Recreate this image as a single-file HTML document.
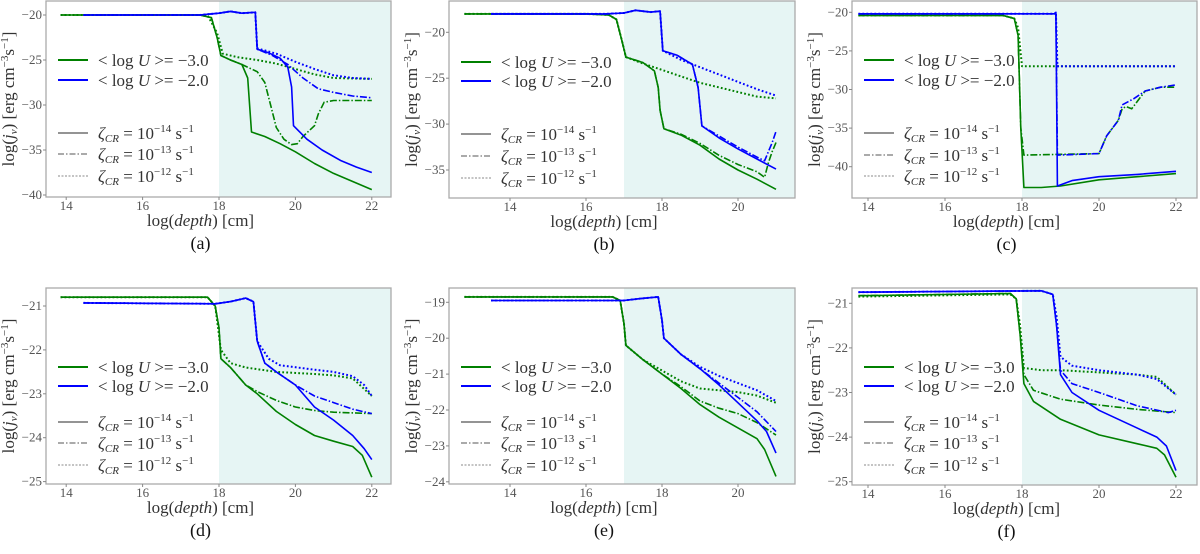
<!DOCTYPE html>
<html><head><meta charset="utf-8"><style>
body{margin:0;background:#fff;}
svg{display:block;font-family:"Liberation Serif",serif;}
</style></head><body>
<svg id="fig" width="1200" height="554" viewBox="0 0 1200 554"></svg>
<script>
// ---- data: [logDepth, log j_nu] ----
const a_gs=[[13.85,-20],[17.5,-20],[17.8,-20.3],[17.95,-22.5],[18.05,-24.5],[18.3,-25],[18.6,-25.5],[18.75,-27],[18.85,-33],[19.2,-33.5],[19.6,-34.3],[20,-35.2],[20.5,-36.5],[21,-37.6],[21.5,-38.5],[22,-39.4]];
const a_gd=[[13.85,-20],[17.5,-20],[17.8,-20.3],[17.95,-22.5],[18.05,-24.5],[18.3,-25],[18.6,-25.5],[19,-26.3],[19.2,-27.5],[19.35,-30],[19.5,-32.5],[19.7,-33.8],[19.9,-34.4],[20.05,-34.3],[20.2,-33.5],[20.5,-32.3],[20.6,-31],[20.75,-29.7],[21,-29.5],[22,-29.5]];
const a_go=[[13.85,-20],[17.7,-20],[17.95,-22],[18.1,-24.3],[18.5,-24.7],[19,-25],[19.5,-25.4],[20,-26],[20.5,-26.6],[21,-27],[22,-27.1]];
const a_bs=[[14.45,-20],[17.5,-20],[18,-19.8],[18.3,-19.6],[18.6,-19.8],[18.95,-19.7],[19,-23.8],[19.3,-24.2],[19.6,-24.8],[19.8,-25.8],[19.9,-28],[19.95,-32.3],[20.3,-33.8],[20.7,-35],[21.2,-36.2],[21.6,-36.9],[22,-37.5]];
const a_bd=[[14.45,-20],[17.5,-20],[18,-19.8],[18.3,-19.6],[18.6,-19.8],[18.95,-19.7],[19,-23.8],[19.4,-24.5],[19.8,-25.5],[20.2,-27],[20.6,-28.2],[21,-28.6],[21.5,-29],[22,-29.2]];
const a_bo=[[14.45,-20],[17.5,-20],[18,-19.8],[18.3,-19.6],[18.6,-19.8],[18.95,-19.7],[19,-23.7],[19.5,-24.3],[20,-25.2],[20.5,-26],[21,-26.7],[21.5,-27],[22,-27.1]];

const b_gs=[[12.8,-18],[16,-18],[16.6,-18.1],[16.8,-18.6],[16.95,-21],[17.05,-22.7],[17.5,-23.3],[17.8,-24.2],[17.9,-26],[17.95,-28.5],[18.05,-30.5],[18.5,-31.2],[19,-32.3],[19.5,-33.8],[20,-35],[20.5,-36],[21,-37.1]];
const b_gd=[[12.8,-18],[16,-18],[16.6,-18.1],[16.8,-18.6],[16.95,-21],[17.05,-22.7],[17.5,-23.3],[17.8,-24.2],[17.9,-26],[17.95,-28.5],[18.05,-30.5],[18.5,-31.1],[19,-32.1],[19.5,-33.4],[20,-34.4],[20.5,-35.2],[20.7,-35.8],[20.8,-34.2],[20.9,-33],[21,-32]];
const b_go=[[12.8,-18],[16,-18],[16.6,-18.1],[16.8,-18.6],[16.95,-21],[17.05,-22.7],[17.5,-23.4],[18,-24.1],[18.5,-24.8],[19,-25.5],[19.5,-26],[20,-26.5],[20.5,-27],[21,-27.2]];
const b_bs=[[13.5,-18],[16.5,-18],[17,-17.9],[17.3,-17.6],[17.7,-17.8],[17.95,-17.7],[18.02,-22],[18.4,-22.5],[18.8,-23.5],[18.95,-26],[19.05,-30.2],[19.5,-31.5],[20,-32.7],[20.5,-33.8],[21,-34.9]];
const b_bd=[[13.5,-18],[16.5,-18],[17,-17.9],[17.3,-17.6],[17.7,-17.8],[17.95,-17.7],[18.02,-22],[18.4,-22.5],[18.8,-23.5],[18.95,-26],[19.05,-30.2],[19.5,-31.3],[20,-32.5],[20.5,-33.6],[20.7,-34],[20.8,-33],[20.9,-32],[21,-30.8]];
const b_bo=[[13.5,-18],[16.5,-18],[17,-17.9],[17.3,-17.6],[17.7,-17.8],[17.95,-17.7],[18.02,-22],[18.5,-23],[19,-23.8],[19.5,-24.6],[20,-25.4],[20.5,-26.2],[21,-26.9]];

const c_gs=[[13.75,-20.4],[17.5,-20.4],[17.8,-20.8],[17.9,-23],[17.97,-35],[18.05,-42.7],[18.5,-42.7],[19,-42.5],[20,-41.7],[21,-41.3],[22,-40.9]];
const c_gd=[[13.75,-20.4],[17.5,-20.4],[17.8,-20.8],[17.9,-23],[17.97,-35],[18.05,-38.5],[20,-38.3],[20.2,-36],[20.5,-34],[20.6,-32.5],[20.7,-32.2],[20.85,-32.5],[21.2,-30.2],[21.6,-29.7],[22,-29.7]];
const c_go=[[13.75,-20.4],[17.5,-20.4],[17.8,-20.8],[17.9,-22],[18,-27],[22,-27]];
const c_bs=[[13.75,-20.2],[18.85,-20.2],[18.88,-20],[18.92,-42.5],[19.3,-41.8],[20,-41.3],[21,-41],[22,-40.6]];
const c_bd=[[13.75,-20.2],[18.85,-20.2],[18.88,-20],[18.92,-38.5],[20,-38.3],[20.2,-36],[20.5,-34],[20.6,-32],[20.9,-31.2],[21.2,-30.2],[21.6,-29.7],[22,-29.4]];
const c_bo=[[13.75,-20.2],[18.85,-20.2],[18.88,-20],[18.92,-27],[22,-27]];

const d_gs=[[13.85,-20.8],[17.7,-20.8],[17.9,-21],[18,-21.5],[18.05,-22.2],[18.3,-22.4],[18.7,-22.8],[19,-23],[19.5,-23.4],[20,-23.7],[20.5,-23.95],[21,-24.08],[21.5,-24.2],[21.75,-24.4],[22,-24.9]];
const d_gd=[[13.85,-20.8],[17.7,-20.8],[17.9,-21],[18,-21.5],[18.05,-22.2],[18.3,-22.4],[18.7,-22.8],[19,-22.95],[19.5,-23.15],[20,-23.3],[20.5,-23.38],[21,-23.42],[22,-23.45]];
const d_go=[[13.85,-20.8],[17.7,-20.8],[17.9,-21],[18.05,-22],[18.3,-22.3],[18.7,-22.4],[19.5,-22.5],[20.5,-22.55],[21,-22.58],[21.5,-22.65],[22,-23.05]];
const d_bs=[[14.45,-20.93],[17.9,-20.95],[18.3,-20.9],[18.7,-20.82],[18.9,-20.9],[19,-21.8],[19.2,-22.3],[19.5,-22.5],[20,-22.8],[20.5,-23.3],[21,-23.6],[21.5,-23.95],[21.8,-24.25],[22,-24.5]];
const d_bd=[[14.45,-20.93],[17.9,-20.95],[18.3,-20.9],[18.7,-20.82],[18.9,-20.9],[19,-21.8],[19.2,-22.3],[19.5,-22.5],[20,-22.8],[20.5,-23.05],[21,-23.2],[21.5,-23.35],[22,-23.45]];
const d_bo=[[14.45,-20.93],[17.9,-20.95],[18.3,-20.9],[18.7,-20.82],[18.9,-20.9],[19,-21.8],[19.3,-22.2],[19.6,-22.35],[20.5,-22.45],[21,-22.5],[21.5,-22.6],[21.8,-22.8],[22,-23.05]];

const e_gs=[[12.8,-18.85],[16.7,-18.85],[16.9,-18.95],[17,-19.6],[17.05,-20.2],[17.5,-20.6],[18,-21],[18.5,-21.4],[19,-21.85],[19.5,-22.2],[20,-22.5],[20.5,-22.8],[20.7,-23.1],[21,-23.85]];
const e_gd=[[12.8,-18.85],[16.7,-18.85],[16.9,-18.95],[17,-19.6],[17.05,-20.2],[17.5,-20.6],[18,-21],[18.5,-21.35],[19,-21.75],[19.5,-21.95],[20,-22.1],[20.5,-22.35],[21,-22.7]];
const e_go=[[12.8,-18.85],[16.7,-18.85],[16.9,-18.95],[17,-19.6],[17.05,-20.2],[17.5,-20.6],[18,-20.9],[18.5,-21.2],[19,-21.4],[20,-21.5],[20.5,-21.6],[21,-21.8]];
const e_bs=[[13.5,-18.95],[17,-18.95],[17.4,-18.9],[17.9,-18.85],[18,-19.5],[18.05,-20],[18.5,-20.45],[19,-20.85],[19.5,-21.3],[20,-21.8],[20.5,-22.3],[20.75,-22.6],[21,-23.2]];
const e_bd=[[13.5,-18.95],[17,-18.95],[17.4,-18.9],[17.9,-18.85],[18,-19.5],[18.05,-20],[18.5,-20.45],[19,-20.85],[19.5,-21.25],[20,-21.65],[20.5,-22.05],[21,-22.6]];
const e_bo=[[13.5,-18.95],[17,-18.95],[17.4,-18.9],[17.9,-18.85],[18,-19.5],[18.05,-20],[18.5,-20.45],[19,-20.8],[19.5,-21.05],[20,-21.25],[20.5,-21.45],[21,-21.75]];

const f_gs=[[13.75,-20.83],[17.7,-20.78],[17.85,-20.9],[17.95,-21.7],[18.05,-22.8],[18.3,-23.2],[19,-23.6],[20,-23.95],[21,-24.15],[21.5,-24.25],[21.7,-24.4],[22,-24.9]];
const f_gd=[[13.75,-20.83],[17.7,-20.78],[17.85,-20.9],[17.95,-21.7],[18.05,-22.6],[18.3,-22.95],[19,-23.15],[20,-23.28],[21,-23.38],[22,-23.45]];
const f_go=[[13.75,-20.85],[17.7,-20.8],[17.85,-20.9],[17.95,-21.5],[18.05,-22.45],[18.5,-22.5],[19,-22.5],[20,-22.55],[21,-22.6],[21.5,-22.65],[22,-23.05]];
const f_bs=[[13.75,-20.75],[18.5,-20.72],[18.8,-20.8],[18.9,-21.5],[19,-22.6],[19.3,-23],[20,-23.4],[21,-23.8],[21.5,-24],[21.75,-24.2],[22,-24.75]];
const f_bd=[[13.75,-20.75],[18.5,-20.72],[18.8,-20.8],[18.9,-21.5],[19,-22.5],[19.3,-22.8],[20,-23],[21,-23.3],[21.8,-23.45],[22,-23.4]];
const f_bo=[[13.75,-20.75],[18.5,-20.72],[18.8,-20.8],[18.9,-21.3],[19,-22.2],[19.3,-22.4],[20,-22.5],[21,-22.6],[21.5,-22.7],[22,-23.05]];

const xTicksA=[14,16,18,20,22];
const xTicksB=[14,16,18,20];
const yTicksA=[-20,-25,-30,-35,-40];
const yTicksB=[-20,-25,-30,-35];
const yTicksC=[-20,-25,-30,-35,-40];
const yTicksD=[-21,-22,-23,-24,-25];
const yTicksE=[-19,-20,-21,-22,-23,-24];
const yTicksF=[-21,-22,-23,-24,-25];

const NS="http://www.w3.org/2000/svg";
const svg=document.getElementById('fig');
function el(tag,attrs,parent){const e=document.createElementNS(NS,tag);for(const k in attrs)e.setAttribute(k,attrs[k]);(parent||svg).appendChild(e);return e;}

const panels=[
 {id:'a',L:46,R:391,T:1,B:197,x0:18,px0:219,kx:38.2,y0:-20,py0:15,ky:9,shade:18,xt:xTicksA,yt:yTicksA,s:[a_gs,a_gd,a_go,a_bs,a_bd,a_bo],leg:[60,80,133,154,176]},
 {id:'b',L:449,R:795,T:1,B:198,x0:17,px0:624,kx:38,y0:-20,py0:32.3,ky:9.18,shade:17,xt:xTicksB,yt:yTicksB,s:[b_gs,b_gd,b_go,b_bs,b_bd,b_bo],leg:[62,81,134,156,178]},
 {id:'c',L:852,R:1197,T:1,B:198,x0:18,px0:1022,kx:38.5,y0:-20,py0:12.3,ky:7.72,shade:18,xt:xTicksA,yt:yTicksC,s:[c_gs,c_gd,c_go,c_bs,c_bd,c_bo],leg:[60,80,133,155,176]},
 {id:'d',L:46,R:391,T:288,B:484,x0:18,px0:219,kx:38.2,y0:-21,py0:306,ky:43.9,shade:18,xt:xTicksA,yt:yTicksD,s:[d_gs,d_gd,d_go,d_bs,d_bd,d_bo],leg:[367,386,422,443,465]},
 {id:'e',L:449,R:795,T:288,B:484,x0:17,px0:624,kx:38,y0:-19,py0:302.3,ky:35.9,shade:17,xt:xTicksB,yt:yTicksE,s:[e_gs,e_gd,e_go,e_bs,e_bd,e_bo],leg:[367,386,422,443,465]},
 {id:'f',L:852,R:1197,T:288,B:485,x0:18,px0:1022,kx:38.5,y0:-21,py0:303.3,ky:44.6,shade:18,xt:xTicksA,yt:yTicksF,s:[f_gs,f_gd,f_go,f_bs,f_bd,f_bo],leg:[367,386,422,443,465]}
];
const cols=['#008000','#008000','#008000','#0000ff','#0000ff','#0000ff'];
const dashes=['none','7,2,1.5,2','1.8,2.2','none','7,2,1.5,2','1.8,2.2'];
const snames=['green-solid','green-dashdot','green-dotted','blue-solid','blue-dashdot','blue-dotted'];

panels.forEach(p=>{
  const X=v=>p.px0+(v-p.x0)*p.kx, Y=v=>p.py0+(p.y0-v)*p.ky;
  const g=el('g',{});
  
  
  const sh=el('rect',{x:X(p.shade),y:p.T,width:p.R-X(p.shade),height:p.B-p.T,fill:'#e6f5f4'},g);
  
  
  p.s.forEach((pts,i)=>{
    const d=pts.map((q,j)=>(j?'L':'M')+X(q[0]).toFixed(1)+','+Y(q[1]).toFixed(1)).join('');
    const path=el('path',{d:d,fill:'none',stroke:cols[i],'stroke-width':i%3==2?2:1.6,'stroke-dasharray':dashes[i],'stroke-linejoin':'round'},g);
    
    
  });
  const box=el('rect',{x:p.L,y:p.T,width:p.R-p.L,height:p.B-p.T,fill:'none',stroke:'#aaa','stroke-width':1.3},g);
  
  
  p.xt.forEach(t=>{
    el('line',{x1:X(t),x2:X(t),y1:p.B,y2:p.B+3,stroke:'#888'},g);
    const tx=el('text',{x:X(t),y:p.B+13,'font-size':13,fill:'#555','text-anchor':'middle'},g);
    tx.textContent=t;
    
    
  });
  p.yt.forEach(t=>{
    el('line',{x1:p.L-3,x2:p.L,y1:Y(t),y2:Y(t),stroke:'#888'},g);
    const ty=el('text',{x:p.L-4,y:Y(t)+4,'font-size':13,fill:'#555','text-anchor':'end'},g);
    ty.textContent='\u2212'+Math.abs(t);
    
    
  });
  const cx=(p.L+p.R)/2-18;
  const xl=el('text',{x:cx,y:p.B+29,'font-size':17,fill:'#333','text-anchor':'middle'},g);
  xl.innerHTML='log(<tspan font-style="italic">depth</tspan>) [cm]';
  
  
  const cap=el('text',{x:cx,y:p.B+52,'font-size':18,fill:'#111','text-anchor':'middle'},g);
  cap.textContent='('+p.id+')';
  
  
  const my=(p.T+p.B)/2, lx=p.L-32;
  const yl=el('text',{x:lx,y:my,'font-size':17,fill:'#333','text-anchor':'middle',transform:'rotate(-90 '+lx+' '+my+')'},g);
  yl.innerHTML='log(<tspan font-style="italic">j</tspan><tspan font-size="11" dy="3" font-style="italic">ν</tspan><tspan dy="-3">)  [erg cm</tspan><tspan font-size="11" dy="-6">−3</tspan><tspan dy="6">s</tspan><tspan font-size="11" dy="-6">−1</tspan><tspan dy="6">]</tspan>';
  
  
  const lg=el('g',{},g);
  
  
  const l0=p.L+12,l1=p.L+42,tx0=p.L+52;
  const items=[['#008000','none','&lt; log <tspan font-style="italic">U</tspan> &gt;= −3.0',2],['#0000ff','none','&lt; log <tspan font-style="italic">U</tspan> &gt;= −2.0',2],
   ['#555','none','<tspan font-style="italic">ζ</tspan><tspan font-size="11" dy="3" font-style="italic">CR</tspan><tspan dy="-3"> = 10</tspan><tspan font-size="11" dy="-7">−14</tspan><tspan dy="7"> s</tspan><tspan font-size="11" dy="-7">−1</tspan>',1.3],
   ['#555','6,2,1.5,2','<tspan font-style="italic">ζ</tspan><tspan font-size="11" dy="3" font-style="italic">CR</tspan><tspan dy="-3"> = 10</tspan><tspan font-size="11" dy="-7">−13</tspan><tspan dy="7"> s</tspan><tspan font-size="11" dy="-7">−1</tspan>',1],
   ['#888','2,1.5','<tspan font-style="italic">ζ</tspan><tspan font-size="11" dy="3" font-style="italic">CR</tspan><tspan dy="-3"> = 10</tspan><tspan font-size="11" dy="-7">−12</tspan><tspan dy="7"> s</tspan><tspan font-size="11" dy="-7">−1</tspan>',1]];
  items.forEach((it,i)=>{
    const yy=p.leg[i];
    el('line',{x1:l0,x2:l1,y1:yy,y2:yy,stroke:it[0],'stroke-width':it[3],'stroke-dasharray':it[1]},lg);
    const t=el('text',{x:tx0,y:yy+6,'font-size':17,fill:'#333'},lg);
    t.innerHTML=it[2];
    
    
  });
});
</script>
</body></html>
